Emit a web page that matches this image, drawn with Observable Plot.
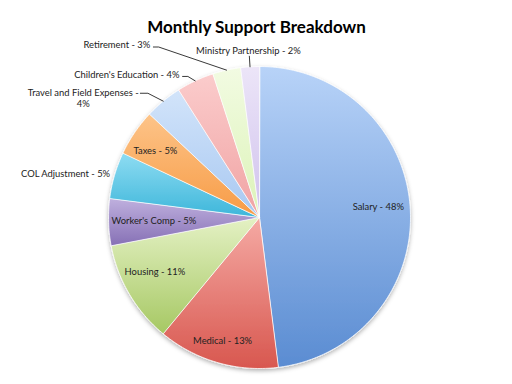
<!DOCTYPE html>
<html><head><meta charset="utf-8">
<script src="https://cdn.jsdelivr.net/npm/d3@7"></script>
<script src="https://cdn.jsdelivr.net/npm/@observablehq/plot@0.6"></script>
<style>body{margin:0;background:#fff;font-family:Lato,sans-serif}</style>
</head><body><div id="chart"></div>
<script>
const title = "Monthly Support Breakdown";
const categories = ["Salary","Medical","Housing","Worker's Comp","COL Adjustment","Taxes","Travel and Field Expenses","Children's Education","Retirement","Ministry Partnership"];
const percents = [48,13,11,5,5,5,4,4,3,2];
const labelTexts = ["Salary - 48%","Medical - 13%","Housing - 11%","Worker's Comp - 5%","COL Adjustment - 5%","Taxes - 5%","Travel and Field Expenses -\n4%","Children's Education - 4%","Retirement - 3%","Ministry Partnership - 2%"];
const topColors = ["#b8d3f8","#f5aaa4","#e4f1c4","#bfb0de","#8edcf2","#fdc489","#d2e4fa","#fbcccc","#f2fbe2","#ece5f8"];
const bottomColors = ["#5a8cd2","#d8574f","#a6c863","#8670b5","#3db6da","#f79b45","#a8c8f1","#f0a3a3","#dcf3b8","#d0c2ed"];

// label layout (code, not data): radius factor, angle shift (deg), anchor, leader start + horizontal knee
const layout = [
  {r:0.79, da:-1.7, anchor:"middle"},
  {r:0.85, da:0.5, anchor:"middle"},
  {r:0.78, da:3.2, anchor:"middle"},
  {r:0.70, da:0, anchor:"middle"},
  {r:1.03, da:0, anchor:"end"},
  {r:0.82, da:-1.4, anchor:"middle"},
  {r:1.41, da:-16.3, anchor:"middle", lr:1.14, lda:-4.2, knee:0.05},
  {r:1.08, da:-4.2, anchor:"end", lr:1.064, lda:-3.4, knee:0.035},
  {r:1.35, da:-19.8, anchor:"end", lr:1.33, lda:-19.3, knee:0.035},
  {r:1.11, da:-0.2, anchor:"middle", lr:1.07, lda:0, knee:0}
];

const total = d3.sum(percents);
let acc = 0;
const slices = categories.map((name, i) => {
  const a0 = acc / total * 2 * Math.PI; acc += percents[i];
  const a1 = acc / total * 2 * Math.PI;
  return {name, i, a0, a1, mid: (a0 + a1) / 2};
});
const pts = [];
for (const s of slices) {
  pts.push({name: s.name, x: 0, y: 0});
  const n = Math.max(2, Math.ceil((s.a1 - s.a0) / (Math.PI / 180)));
  for (let k = 0; k <= n; k++) {
    const a = s.a0 + (s.a1 - s.a0) * k / n;
    pts.push({name: s.name, x: Math.sin(a), y: Math.cos(a)});
  }
}
const rad = Math.PI / 180;
const labels = slices.map(s => {
  const L = layout[s.i];
  const a = s.mid + L.da * rad;
  return {text: labelTexts[s.i], anchor: L.anchor, x: L.r * Math.sin(a), y: L.r * Math.cos(a)};
});
const leaderPts = [];
slices.filter(s => layout[s.i].lr).forEach(s => {
  const L = layout[s.i];
  const a = s.mid + L.lda * rad;
  const x0 = L.lr * Math.sin(a), y0 = L.lr * Math.cos(a);
  leaderPts.push({name: s.name, x: x0, y: y0});
  if (L.knee) leaderPts.push({name: s.name, x: x0 + L.knee, y: y0});
  leaderPts.push({name: s.name, x: Math.sin(s.mid), y: Math.cos(s.mid)});
});

const svg = Plot.plot({
  width: 512, height: 384, margin: 0,
  style: {fontFamily: "Lato, sans-serif", background: "#fff"},
  x: {domain: [-1, 1], range: [108, 410], axis: null},
  y: {domain: [-1, 1], range: [368, 66], axis: null},
  color: {type: "ordinal", domain: categories, range: categories.map((_, i) => `url(#g${i})`)},
  marks: [
    Plot.line(pts, {x: "x", y: "y", z: "name", fill: "name", stroke: "#fff", strokeOpacity: 0.75, strokeWidth: 1, curve: "linear-closed"}),
    Plot.line(leaderPts, {x: "x", y: "y", z: "name", stroke: "#222", strokeWidth: 0.9}),
    Plot.text(labels.filter(d => d.anchor === "middle"), {x: "x", y: "y", text: "text", textAnchor: "middle", fontSize: 9.4, fill: "#222", lineHeight: 1.2}),
    Plot.text(labels.filter(d => d.anchor === "end"), {x: "x", y: "y", text: "text", textAnchor: "end", fontSize: 9.4, fill: "#222"}),
    Plot.text([title], {frameAnchor: "top", dy: 20, text: d => d, fontSize: 17, fontWeight: "bold", fill: "#000"})
  ]
});
const root = d3.select(svg);
const defs = root.insert("defs", ":first-child");
categories.forEach((_, i) => {
  const g = defs.append("linearGradient").attr("id", `g${i}`).attr("x1", 0).attr("y1", 0).attr("x2", 0).attr("y2", 1);
  g.append("stop").attr("offset", "0%").attr("stop-color", topColors[i]);
  g.append("stop").attr("offset", "100%").attr("stop-color", bottomColors[i]);
});
const f = defs.append("filter").attr("id", "shadow").attr("x", "-20%").attr("y", "-20%").attr("width", "140%").attr("height", "140%");
f.append("feDropShadow").attr("dx", 0).attr("dy", 2).attr("stdDeviation", 2).attr("flood-color", "#000").attr("flood-opacity", 0.3);
root.select('g[aria-label="line"]').attr("filter", "url(#shadow)");
document.getElementById("chart").appendChild(svg);
</script></body></html>
